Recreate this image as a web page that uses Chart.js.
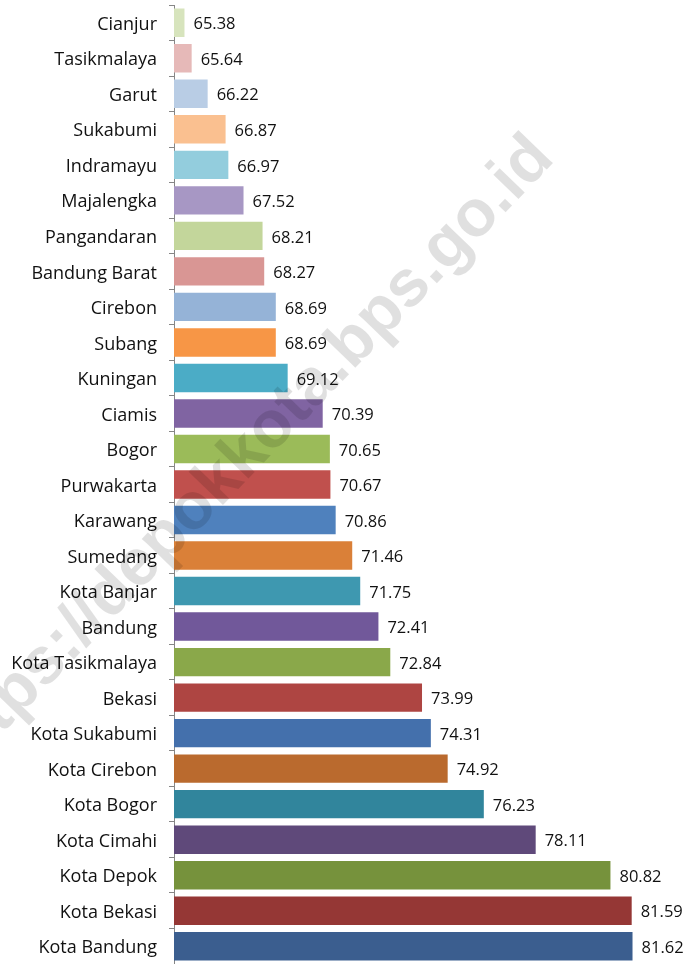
<!DOCTYPE html>
<html>
<head>
<meta charset="utf-8">
<script src="https://cdn.jsdelivr.net/npm/chart.js@4/dist/chart.umd.min.js"></script>
<style>
  html, body { margin: 0; padding: 0; background: #fff; }
  #wrap { width: 686px; height: 964px; position: relative; }
</style>
</head>
<body>
<div id="wrap"><canvas id="chartIpm"></canvas></div>
<script>
const wilayah = [
  "Cianjur", "Tasikmalaya", "Garut", "Sukabumi", "Indramayu", "Majalengka",
  "Pangandaran", "Bandung Barat", "Cirebon", "Subang", "Kuningan", "Ciamis",
  "Bogor", "Purwakarta", "Karawang", "Sumedang", "Kota Banjar", "Bandung",
  "Kota Tasikmalaya", "Bekasi", "Kota Sukabumi", "Kota Cirebon", "Kota Bogor",
  "Kota Cimahi", "Kota Depok", "Kota Bekasi", "Kota Bandung",
];
const nilai = [
  65.38, 65.64, 66.22, 66.87, 66.97, 67.52,
  68.21, 68.27, 68.69, 68.69, 69.12, 70.39,
  70.65, 70.67, 70.86, 71.46, 71.75, 72.41,
  72.84, 73.99, 74.31, 74.92, 76.23,
  78.11, 80.82, 81.59, 81.62,
];
const warna = [
  "#D7E4BD", "#E6B9B8", "#B9CDE5", "#FAC090", "#93CDDD", "#A797C4",
  "#C3D69B", "#D99694", "#95B3D7", "#F79646", "#4BACC6", "#8064A2",
  "#9BBB59", "#C0504D", "#4F81BD", "#DA8038", "#3E98B0", "#71589A",
  "#8AA84A", "#AE4542", "#4470AC", "#BA6A2E", "#31859C",
  "#5F497A", "#76923C", "#953735", "#3B5E8F",
];
const marcaAgua = "https://depokkota.bps.go.id";

// etiquetas de valor + marca de agua
const etiquetas = {
  id: "etiquetas",
  afterDatasetsDraw(chart) {
    const ctx = chart.ctx;
    ctx.save();
    ctx.translate(556, 160);
    ctx.rotate(-46 * Math.PI / 180);
    ctx.font = "bold 66px 'Liberation Sans'";
    ctx.fillStyle = "rgba(0,0,0,0.12)";
    ctx.textAlign = "right";
    ctx.textBaseline = "alphabetic";
    ctx.fillText(marcaAgua, 0, 0);
    ctx.restore();

    ctx.save();
    ctx.font = "16.5px 'Open Sans'";
    ctx.fillStyle = "#111";
    ctx.textAlign = "left";
    ctx.textBaseline = "middle";
    chart.getDatasetMeta(0).data.forEach((bar, i) => {
      ctx.fillText(nilai[i].toFixed(2), bar.x + 9, bar.y + 2);
    });
    ctx.restore();
  },
};

new Chart(document.getElementById("chartIpm"), {
  type: "bar",
  data: {
    labels: wilayah,
    datasets: [
      {
        data: nilai,
        backgroundColor: warna,
        barPercentage: 0.8,
        categoryPercentage: 1,
        borderWidth: 0,
      },
    ],
  },
  options: {
    indexAxis: "y",
    responsive: true,
    maintainAspectRatio: false,
    animation: false,
    layout: { padding: { top: 5, right: 43, bottom: 0, left: 0 } },
    plugins: { legend: { display: false }, tooltip: { enabled: false } },
    scales: {
      x: { display: false, min: 65, max: 82 },
      y: {
        grid: {
          display: true,
          drawOnChartArea: false,
          drawTicks: true,
          tickLength: 5,
          color: "#868686",
          offset: true,
        },
        border: { display: true, color: "#868686" },
        ticks: {
          color: "#111",
          font: { family: "Open Sans", size: 18 },
          padding: 12,
          labelOffset: 2,
        },
        afterFit: (s) => {
          s.width = 174;
          s.paddingTop = 0;
          s.paddingBottom = 0;
        },
      },
    },
  },
  plugins: [etiquetas],
});
</script>
</body>
</html>
